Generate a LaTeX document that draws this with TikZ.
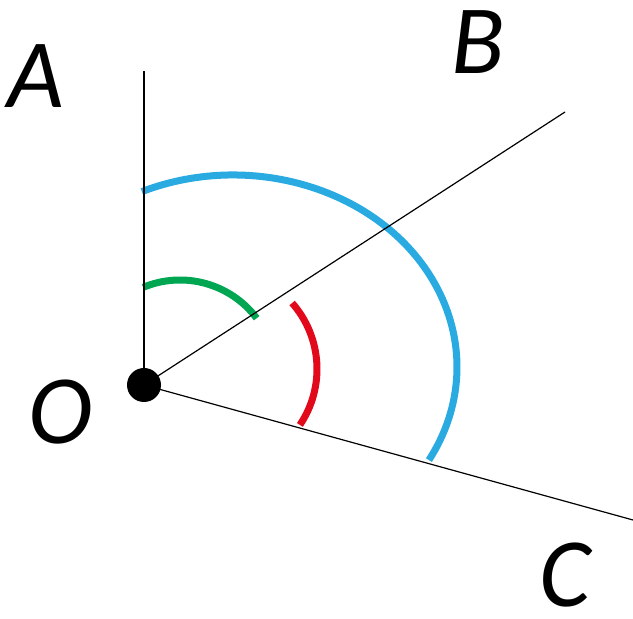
\documentclass[tikz,border=0pt]{standalone}
\usepackage{fontspec}
\setmainfont{Carlito}
\usepackage{tikz}
\usetikzlibrary{positioning}

\definecolor{arcblue}{RGB}{41,170,225}
\definecolor{arcgreen}{RGB}{0,166,81}
\definecolor{arcred}{RGB}{226,10,26}

\begin{document}
\begin{tikzpicture}[
    x=1pt, y=1pt,
    ray/.style={line width=1.2pt, draw=black},
    angarc/.style={line width=7pt},
    lbl/.style={inner sep=0pt, font=\fontsize{98}{98}\selectfont\itshape}
]
\useasboundingbox (0,0) rectangle (633,619);
\coordinate (O) at (144,234);
\coordinate (a) at (144,548);
\coordinate (b) at (565,507);
\coordinate (c) at (633,99);

% angle arcs
\draw[angarc, arcblue] (233,252) ++(114:224 and 192) arc[start angle=114, end angle=-29, x radius=224, y radius=192];
\draw[angarc, arcgreen] (180,243) ++(112.6:96) arc[start angle=112.6, end angle=37, radius=96];
\draw[angarc, arcred] (217,250) ++(41.3:100) arc[start angle=41.3, end angle=-34, radius=100];

% rays
\draw[ray] (O) -- (a);
\draw[ray] (O) -- (b);
\draw[ray] (O) -- (c);
\fill (O) circle[radius=17];

\node[lbl] (lA) at (36,543) {A};
\node[lbl] (lB) at (478,577) {B};
\node[lbl] (lO) at (61,207) {O};
\node[lbl] (lC) at (565,44) {C};
\end{tikzpicture}
\end{document}
